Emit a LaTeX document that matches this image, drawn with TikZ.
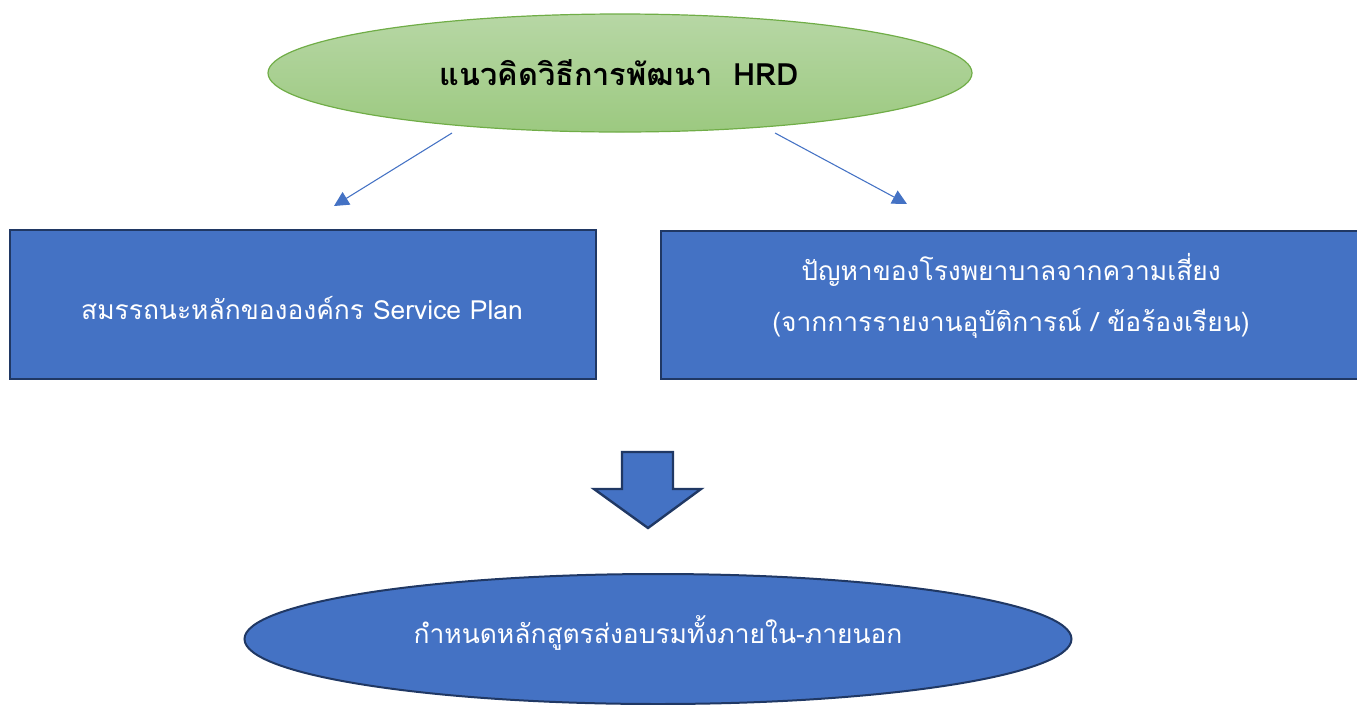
\documentclass[tikz,border=0pt]{standalone}
\usepackage{fontspec}
\setmainfont{Loma}[Script=Thai]
\usetikzlibrary{shapes.geometric,arrows.meta}
\definecolor{gtop}{RGB}{183,215,165}
\definecolor{gbot}{RGB}{156,201,128}
\definecolor{gline}{RGB}{112,173,71}
\definecolor{bfill}{RGB}{68,114,196}
\definecolor{bline}{RGB}{32,56,100}
\tikzset{
  boxstyle/.style={draw=bline, line width=2pt, fill=bfill},
  conn/.style={draw=bfill, line width=0.8pt, -{Triangle[length=11pt,width=11pt]}},
  ovalstyle/.style={ellipse, draw=bline, line width=1.5pt, fill=bfill, inner sep=0pt},
  wtext/.style={font=\fontsize{19.8}{24}\selectfont, text=white, inner sep=0pt},
}
\begin{document}
\begin{tikzpicture}[x=0.75pt,y=-0.75pt]
\useasboundingbox (0,0) rectangle (1357,704);
% top ellipse
\node[ellipse, draw=gline, line width=0.9pt, top color=gtop, bottom color=gbot, minimum width=704*0.75pt, minimum height=118*0.75pt, inner sep=0pt] (top) at (620,73) {};
\node[font=\fontsize{23}{27}\selectfont\bfseries, inner sep=0pt] (toptext) at (619,73) {แนวคิดวิธีการพัฒนา~~HRD};
% boxes
\node[boxstyle, minimum width=586*0.75pt, minimum height=149*0.75pt, inner sep=0pt] (left) at (303,304.5) {};
\node[wtext] (lefttext) at (302,308) {สมรรถนะหลักขององค์กร Service Plan};
\node[boxstyle, minimum width=701*0.75pt, minimum height=148*0.75pt, inner sep=0pt] (right) at (1011.5,305) {};
\node[wtext] (r1) at (1011,270) {ปัญหาของโรงพยาบาลจากความเสี่ยง};
\node[wtext] (r2) at (1011,323) {(จากการรายงานอุบัติการณ์ / ข้อร้องเรียน)};
% connectors
\coordinate (la) at (452,133);
\coordinate (lb) at (334,206);
\coordinate (ra) at (775,133);
\coordinate (rb) at (907,204);
\draw[conn] (la) -- (lb);
\draw[conn] (ra) -- (rb);
% big down arrow
\draw[draw=bline, line width=1.8pt, fill=bfill, line join=miter]
  (622,452) -- (673,452) -- (673,489) -- (701,489) -- (648,528) -- (594,489) -- (622,489) -- cycle;
% bottom ellipse
\node[ovalstyle, minimum width=827*0.75pt, minimum height=130*0.75pt] (bot) at (658,639) {};
\node[wtext] (bottext) at (658,633) {กำหนดหลักสูตรส่งอบรมทั้งภายใน-ภายนอก};
\end{tikzpicture}
\end{document}
